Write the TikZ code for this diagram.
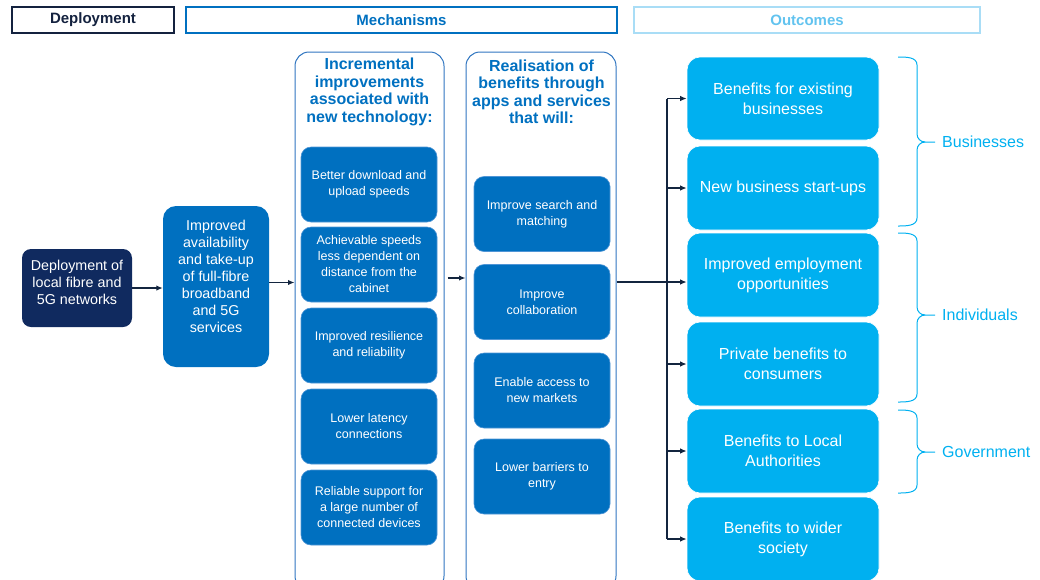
\documentclass[tikz,border=0pt]{standalone}
\usepackage{fontspec}
\setmainfont{Liberation Sans}
\usetikzlibrary{arrows.meta,calc}
\definecolor{navy}{HTML}{102A5F}
\definecolor{hnavy}{HTML}{14223F}
\definecolor{midblue}{HTML}{0070C0}
\definecolor{sky}{HTML}{00B0F0}
\definecolor{paleblue}{HTML}{A9DDF6}
\definecolor{palet}{HTML}{62C3EF}
\definecolor{arrowc}{HTML}{13253F}
\definecolor{colline}{HTML}{2F75C0}
\definecolor{subedge}{HTML}{4F95D6}
\newcommand\mybrace[3]{%
  \draw[brace] (898,#1) to[out=0,in=90] (917,{#1+8}) -- (917,{#3-8})
    to[out=-90,in=180] (925,#3) -- (935,#3);
  \draw[brace] (925,#3) to[out=180,in=90] (917,{#3+8}) -- (917,{#2-8})
    to[out=-90,in=0] (898,#2);}
\begin{document}
\begin{tikzpicture}[x=1pt,y=-1pt,
  hdr/.style={draw, line width=2pt, minimum height=26pt, inner sep=0pt,
    font=\bfseries\fontsize{15}{17}\selectfont},
  subbox/.style={fill=midblue, draw=subedge, line width=0.6pt, rounded corners=10pt,
    minimum width=136pt, minimum height=75pt, align=center, text=white,
    font=\fontsize{12.5}{16}\selectfont, inner sep=0pt},
  outbox/.style={fill=sky, draw=white, line width=0.6pt, rounded corners=13pt,
    minimum width=192pt, minimum height=84pt, align=center, text=white,
    font=\fontsize{16}{20}\selectfont, inner sep=0pt},
  colbox/.style={draw=colline, line width=1pt, rounded corners=14pt,
    minimum width=149pt, minimum height=538pt, inner sep=0pt},
  title/.style={align=center, text=midblue, inner sep=0pt,
    font=\bfseries\fontsize{16}{17.5}\selectfont},
  lefttext/.style={align=center, text=white, inner sep=0pt,
    font=\fontsize{14.3}{17}\selectfont},
  arr/.style={draw=arrowc, line width=1.7pt, -{Latex[length=6.5pt,width=5.5pt]}},
  lin/.style={draw=arrowc, line width=1.7pt},
  brace/.style={draw=sky, line width=1pt},
  blabel/.style={text=sky, font=\fontsize{16}{19}\selectfont, anchor=west, inner sep=0pt}
]
\path[use as bounding box, clip] (0,0) rectangle (1040,579);

% headers
\node[hdr, draw=hnavy, text=hnavy, minimum width=162pt] (hdep) at (93,20) {Deployment};
\node[hdr, draw=midblue, text=midblue, minimum width=431pt] (hmech) at (401.5,20) {Mechanisms};
\node[hdr, draw=paleblue, text=palet, minimum width=346pt] (hout) at (807,20) {Outcomes};

% left boxes
\node[fill=navy, rounded corners=9pt, minimum width=110pt, minimum height=78pt, inner sep=0pt]
  (dep) at (77,288) {};
\node[lefttext] (dept) at (77,282.5) {Deployment of\\local fibre and\\5G networks};
\node[fill=midblue, rounded corners=13pt, minimum width=106pt, minimum height=161pt, inner sep=0pt]
  (avail) at (216,286.5) {};
\node[lefttext] (availt) at (216,276) {Improved\\availability\\and take-up\\of full-fibre\\broadband\\and 5G\\services};

% columns
\node[colbox] (col1) at (369.5,321) {};
\node[colbox, minimum width=150pt] (col2) at (541,321) {};
\node[title] (t1) at (369.5,92) {Incremental\\improvements\\associated with\\new technology:};
\node[title] (t2) at (541.5,92) {Realisation of\\benefits through\\apps and services\\that will:};

\node[subbox] (c1a) at (369,184.5) {Better download and\\upload speeds};
\node[subbox] (c1b) at (369,264.5) {Achievable speeds\\less dependent on\\distance from the\\cabinet};
\node[subbox] (c1c) at (369,345.5) {Improved resilience\\and reliability};
\node[subbox] (c1d) at (369,426.5) {Lower latency\\connections};
\node[subbox] (c1e) at (369,507.5) {Reliable support for\\a large number of\\connected devices};

\node[subbox] (c2a) at (542,214) {Improve search and\\matching};
\node[subbox] (c2b) at (542,302) {Improve\\collaboration};
\node[subbox] (c2c) at (542,390.5) {Enable access to\\new markets};
\node[subbox] (c2d) at (542,476.5) {Lower barriers to\\entry};

% outcomes
\node[outbox, minimum height=83pt] (o1) at (783,98.5) {Benefits for existing\\businesses};
\node[outbox] (o2) at (783,188) {New business start-ups};
\node[outbox] (o3) at (783,275) {Improved employment\\opportunities};
\node[outbox] (o4) at (783,364) {Private benefits to\\consumers};
\node[outbox] (o5) at (783,451) {Benefits to Local\\Authorities};
\node[outbox] (o6) at (783,539) {Benefits to wider\\society};

% connectors
\draw[arr] (dep.east) -- (dep.east -| avail.west);
\draw[arr] ([yshift=4pt]avail.east) -- ([yshift=4pt]avail.east -| col1.west);
\draw[arr, shorten <=3pt] ([yshift=43pt]col1.east) -- ([yshift=43pt]col1.east -| col2.west);
\draw[arr] ([yshift=39pt]col2.east) -- ([yshift=39pt]col2.east -| o3.west);
\coordinate (bus) at (667,0);
\draw[lin] (bus |- o1.west) -- (bus |- o6.west);
\foreach \n in {o1,o2,o4,o5,o6} \draw[arr] (bus |- \n.west) -- (\n.west);

% braces
\mybrace{57}{226}{142}
\mybrace{233}{402}{315}
\mybrace{410}{493}{452}
\node[blabel] (lb) at (942,142) {Businesses};
\node[blabel] (li) at (942,315) {Individuals};
\node[blabel] (lg) at (942,452) {Government};
\end{tikzpicture}
\end{document}
